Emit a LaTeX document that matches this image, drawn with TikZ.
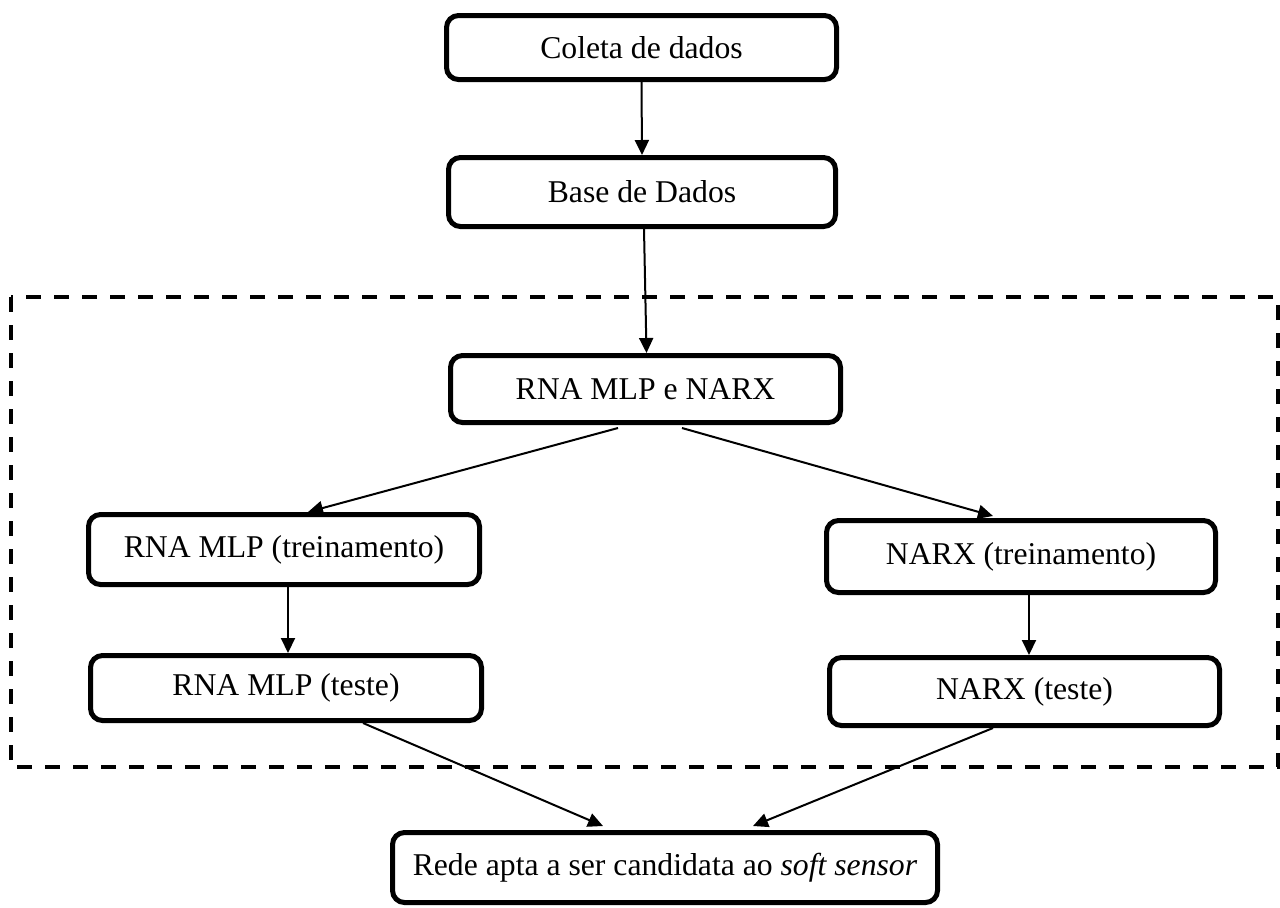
\documentclass[tikz,border=0pt]{standalone}
\usepackage{fontspec}
\setmainfont{Liberation Serif}
\usetikzlibrary{arrows.meta,calc}
\begin{document}
\begin{tikzpicture}[x=0.5pt,y=-0.5pt,
  stage/.style={draw, line width=2.5pt, rounded corners=6pt, align=center,
    inner sep=0pt, font=\fontsize{15.85}{19}\selectfont},
  flow/.style={line width=1pt, -{Triangle[length=7.5pt,width=7pt]}},
  groupframe/.style={line width=2pt, dash pattern=on 7.5pt off 6.5pt}]
\useasboundingbox (0,0) rectangle (1280,907);

% processing stages
\node[stage, minimum width=195pt,   minimum height=32pt]   (coleta) at (641.5,47.5) {Coleta de dados};
\node[stage, minimum width=193.5pt, minimum height=34.5pt] (base)   at (642,192)    {Base de Dados};
\node[stage, minimum width=195pt,   minimum height=33.5pt] (rna)    at (645.5,389)  {RNA MLP e NARX};
\node[stage, minimum width=195.5pt, minimum height=35pt]   (mlptr)  at (284,549.5)  {RNA MLP (treinamento)};
\node[stage, minimum width=194.5pt, minimum height=36pt]   (narxtr) at (1021,556.5) {NARX (treinamento)};
\node[stage, minimum width=195.5pt, minimum height=32.5pt] (mlpte)  at (286,688)    {RNA MLP (teste)};
\node[stage, minimum width=195pt,   minimum height=34pt]   (narxte) at (1024.5,691.5) {NARX (teste)};
\node[stage, minimum width=272.5pt, minimum height=35pt]   (rede)   at (665,867.5)  {Rede apta a ser candidata ao \textit{soft sensor}};

% modelling block
\draw[groupframe] (11,297) rectangle (1278,767);

% flow
\draw[flow] (coleta.south) -- (base.north);
\draw[flow] ($(base.south)+(2,0)$) -- ($(rna.north)+(1,0)$);
\draw[flow] ($(rna.south)+(-27.5,3)$) -- ($(mlptr.north)+(24,0)$);
\draw[flow] ($(rna.south)+(36.5,3)$) -- ($(narxtr.north)+(-28,-2)$);
\draw[flow] ($(mlptr.south)+(4,0)$) -- ($(mlpte.north)+(2,0)$);
\draw[flow] ($(narxtr.south)+(8,0)$) -- ($(narxte.north)+(4.5,0)$);
\draw[flow] ($(mlpte.south)+(77,0)$) -- ($(rede.north)+(-62,-4)$);
\draw[flow] ($(narxte.south)+(-31.5,0)$) -- ($(rede.north)+(88,-4)$);
\end{tikzpicture}
\end{document}
